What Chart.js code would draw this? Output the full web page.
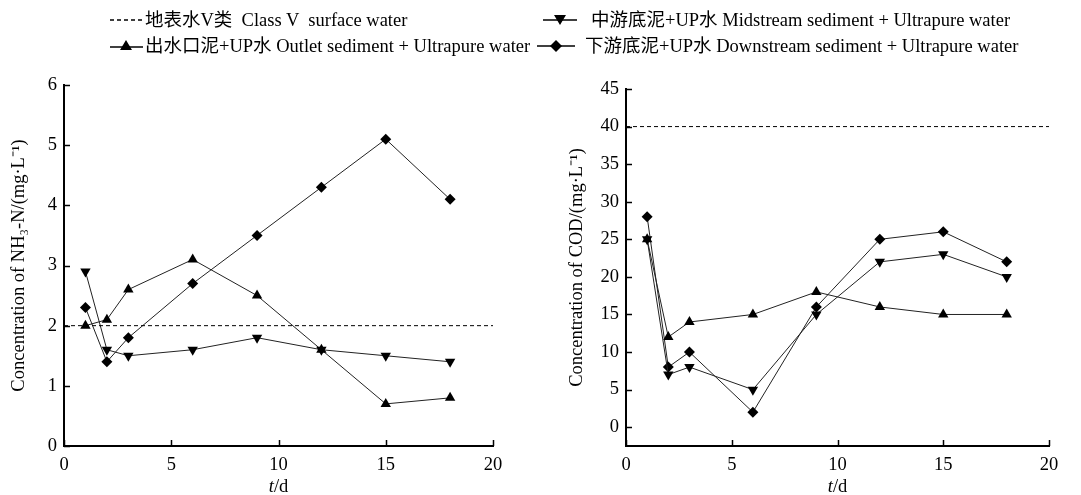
<!DOCTYPE html>
<html>
<head>
<meta charset="utf-8">
<script src="https://cdn.jsdelivr.net/npm/chart.js@4.4.1/dist/chart.umd.min.js"></script>
<style>
  html, body { margin: 0; padding: 0; background: #fff; }
  #page { position: relative; width: 1081px; height: 495px; overflow: hidden;
          font-family: "Liberation Serif", "Noto Sans CJK SC", serif; }
  .box { position: absolute; top: 0; height: 495px; }
  .mk { position: absolute; }
  .lbl { position: absolute; font-size: 18.5px; line-height: 22px; white-space: pre; color: #000; }
</style>
</head>
<body>
<div id="page">
  <div class="box" style="left:0;width:540px"><canvas id="nh3"></canvas></div>
  <div class="box" style="left:540px;width:541px"><canvas id="cod"></canvas></div>

  <!-- legend -->
  <svg class="mk" style="left:110px;top:14px" width="32" height="12">
    <line x1="0" y1="6" x2="32" y2="6" stroke="#000" stroke-width="1.3" stroke-dasharray="4 3"/>
  </svg>
  <div class="lbl" style="left:145px;top:9px">地表水V类  Class V  surface water</div>

  <svg class="mk" style="left:543px;top:14px" width="34" height="12">
    <line x1="0" y1="6" x2="34" y2="6" stroke="#000" stroke-width="1.3"/>
    <polygon points="11,1 23,1 17,11" fill="#000"/>
  </svg>
  <div class="lbl" style="left:591px;top:9px">中游底泥+UP水 Midstream sediment + Ultrapure water</div>

  <svg class="mk" style="left:110px;top:39px" width="33" height="12">
    <line x1="0" y1="8" x2="33" y2="8" stroke="#000" stroke-width="1.3"/>
    <polygon points="10,11 22,11 16,1" fill="#000"/>
  </svg>
  <div class="lbl" style="left:145px;top:35px">出水口泥+UP水 Outlet sediment + Ultrapure water</div>

  <svg class="mk" style="left:537px;top:40px" width="38" height="12">
    <line x1="0" y1="6" x2="38" y2="6" stroke="#000" stroke-width="1.3"/>
    <polygon points="19,0 25,6 19,12 13,6" fill="#000"/>
  </svg>
  <div class="lbl" style="left:585px;top:35px">下游底泥+UP水 Downstream sediment + Ultrapure water</div>
</div>

<script>
// sampling days
const days = [1, 2, 3, 6, 9, 12, 15, 18];

// NH3-N (mg/L)
const nh3Mid = [2.9, 1.6, 1.5, 1.6, 1.8, 1.6, 1.5, 1.4];
const nh3Outlet = [2.0, 2.1, 2.6, 3.1, 2.5, 1.6, 0.7, 0.8];
const nh3Down = [2.3, 1.4, 1.8, 2.7, 3.5, 4.3, 5.1, 4.1];
const nh3Limit = 2;

// COD (mg/L)
const codMid = [25, 7, 8, 5, 15, 22, 23, 20];
const codOutlet = [25, 12, 14, 15, 18, 16, 15, 15];
const codDown = [28, 8, 10, 2, 16, 25, 26, 22];
const codLimit = 40;

const limitSpan = [0, 20];
const xTicks = [0, 5, 10, 15, 20];
const nh3Ticks = [0, 1, 2, 3, 4, 5, 6];
const codTicks = [0, 5, 10, 15, 20, 25, 30, 35, 40, 45];

const FONT = "'Liberation Serif', 'Noto Sans CJK SC', serif";
const FS = 18.5;

const toPoints = (ys) => days.map((d, i) => ({ x: d, y: ys[i] }));

// ticks drawn inward + x title with italic t
const inwardTicks = {
  id: "inwardTicks",
  afterDraw(chart) {
    const ctx = chart.ctx;
    const xs = chart.scales.x;
    const ys = chart.scales.y;
    const len = 6;
    ctx.save();
    ctx.strokeStyle = "#000";
    ctx.lineWidth = 1.5;
    xs.ticks.forEach((t) => {
      const px = Math.round(xs.getPixelForValue(t.value)) + 0.5;
      ctx.beginPath();
      ctx.moveTo(px, xs.top);
      ctx.lineTo(px, xs.top - len);
      ctx.stroke();
    });
    ys.ticks.forEach((t) => {
      const py = Math.round(ys.getPixelForValue(t.value)) + 0.5;
      ctx.beginPath();
      ctx.moveTo(ys.right, py);
      ctx.lineTo(ys.right + len, py);
      ctx.stroke();
    });

    // x title "t/d"
    const cx = (chart.chartArea.left + chart.chartArea.right) / 2;
    const cy = 487;
    ctx.fillStyle = "#000";
    ctx.textBaseline = "middle";
    ctx.font = "italic " + FS + "px " + FONT;
    const wT = ctx.measureText("t").width;
    ctx.font = FS + "px " + FONT;
    const wR = ctx.measureText("/d").width;
    const x0 = cx - (wT + wR) / 2;
    ctx.font = "italic " + FS + "px " + FONT;
    ctx.textAlign = "left";
    ctx.fillText("t", x0, cy);
    ctx.font = FS + "px " + FONT;
    ctx.fillText("/d", x0 + wT, cy);
    ctx.restore();
  },
};

function lineSet(label, ys, style, rot, r) {
  return {
    label: label,
    data: toPoints(ys),
    borderColor: "#222",
    borderWidth: 1,
    pointStyle: style,
    rotation: rot || 0,
    pointRadius: r,
    pointBackgroundColor: "#000",
    pointBorderColor: "#000",
    pointBorderWidth: 0,
    tension: 0,
  };
}

function makeChart(id, cfg) {
  const ctx = document.getElementById(id).getContext("2d");
  return new Chart(ctx, {
    type: "line",
    data: {
      datasets: [
        {
          label: "地表水V类 Class V surface water",
          data: limitSpan.map((x) => ({ x: x, y: cfg.limit })),
          borderColor: "#000",
          borderWidth: 1,
          borderDash: [4, 3],
          pointRadius: 0,
        },
        lineSet("中游底泥+UP水 Midstream sediment + Ultrapure water", cfg.mid, "triangle", 180, 6),
        lineSet("出水口泥+UP水 Outlet sediment + Ultrapure water", cfg.outlet, "triangle", 0, 6),
        lineSet("下游底泥+UP水 Downstream sediment + Ultrapure water", cfg.down, "rectRot", 0, 5.5),
      ],
    },
    options: {
      responsive: true,
      maintainAspectRatio: false,
      animation: false,
      layout: { padding: { top: cfg.top, right: cfg.right, left: 0, bottom: 0 } },
      plugins: { legend: { display: false }, tooltip: { enabled: false } },
      scales: {
        x: {
          type: "linear",
          min: 0,
          max: 20,
          afterBuildTicks: (s) => { s.ticks = xTicks.map((v) => ({ value: v })); },
          afterFit: (s) => { s.height = 49; },
          grid: { drawOnChartArea: false, drawTicks: false },
          border: { color: "#000", width: 2 },
          ticks: { color: "#000", padding: 8, font: { family: FONT, size: FS } },
        },
        y: {
          type: "linear",
          min: cfg.yMin,
          max: cfg.yMax,
          afterBuildTicks: (s) => { s.ticks = cfg.yTicks.map((v) => ({ value: v })); },
          afterFit: (s) => { s.width = cfg.yWidth; },
          grid: { drawOnChartArea: false, drawTicks: false },
          border: { color: "#000", width: 2 },
          ticks: { color: "#000", padding: 7, font: { family: FONT, size: FS } },
          title: {
            display: true,
            text: cfg.title,
            color: "#000",
            font: { family: FONT, size: FS },
            padding: { top: cfg.titlePad, bottom: 0 },
          },
        },
      },
    },
    plugins: [inwardTicks],
  });
}

makeChart("nh3", {
  mid: nh3Mid, outlet: nh3Outlet, down: nh3Down, limit: nh3Limit,
  yMin: 0, yMax: 6, yTicks: nh3Ticks,
  title: "Concentration of NH₃-N/(mg·L⁻¹)",
  top: 85, right: 47, yWidth: 64, titlePad: 8,
});

makeChart("cod", {
  mid: codMid, outlet: codOutlet, down: codDown, limit: codLimit,
  yMin: -2.5, yMax: 45, yTicks: codTicks,
  title: "Concentration of COD/(mg·L⁻¹)",
  top: 89, right: 32, yWidth: 86, titlePad: 26,
});
</script>
</body>
</html>
